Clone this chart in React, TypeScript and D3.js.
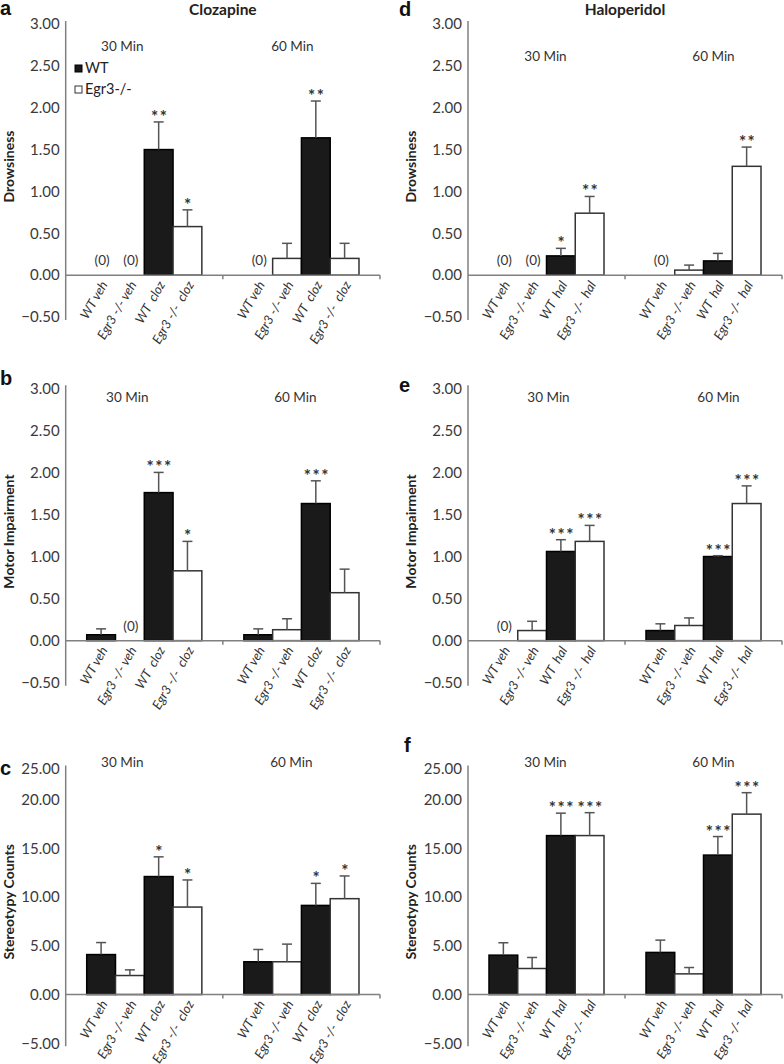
import React, { useEffect, useRef } from "react";
import * as d3 from "d3";

const FONT = "Lato, 'Open Sans', sans-serif";

const times = ["30 Min", "60 Min"];
const genotypes = ["WT", "Egr3", "WT", "Egr3"];
const clozLabels = ["WT veh", "Egr3 -/- veh", "WT  cloz", "Egr3 -/-  cloz"];
const halLabels = ["WT veh", "Egr3 -/- veh", "WT  hal", "Egr3 -/-  hal"];
const legendItems = ["WT", "Egr3-/-"];

const smallTicks = [-0.5, 0, 0.5, 1, 1.5, 2, 2.5, 3];
const countTicks = [-5, 0, 5, 10, 15, 20, 25];

// values: 30 Min (4 conditions) then 60 Min (4 conditions)
const drowsClozMean = [0, 0, 1.5, 0.58, 0, 0.2, 1.64, 0.2];
const drowsClozSem = [0, 0, 0.33, 0.2, 0, 0.18, 0.44, 0.18];
const drowsClozStars = ["", "", "**", "*", "", "", "**", ""];
const drowsClozZero = [true, true, false, false, true, false, false, false];

const motorClozMean = [0.07, 0, 1.76, 0.83, 0.07, 0.13, 1.63, 0.57];
const motorClozSem = [0.07, 0, 0.24, 0.35, 0.07, 0.13, 0.27, 0.28];
const motorClozStars = ["", "", "***", "*", "", "", "***", ""];
const motorClozZero = [false, true, false, false, false, false, false, false];

const stereoClozMean = [4.1, 1.95, 12.1, 8.97, 3.36, 3.36, 9.14, 9.83];
const stereoClozSem = [1.23, 0.58, 2.02, 2.78, 1.26, 1.81, 2.26, 2.33];
const stereoClozStars = ["", "", "*", "*", "", "", "*", "*"];
const stereoClozZero = [false, false, false, false, false, false, false, false];

const drowsHalMean = [0, 0, 0.23, 0.74, 0, 0.06, 0.17, 1.3];
const drowsHalSem = [0, 0, 0.09, 0.2, 0, 0.06, 0.09, 0.23];
const drowsHalStars = ["", "", "*", "**", "", "", "", "**"];
const drowsHalZero = [true, true, false, false, true, false, false, false];

const motorHalMean = [0, 0.12, 1.06, 1.18, 0.12, 0.18, 1.0, 1.63];
const motorHalSem = [0, 0.11, 0.14, 0.19, 0.08, 0.09, 0.01, 0.21];
const motorHalStars = ["", "", "***", "***", "", "", "***", "***"];
const motorHalZero = [true, false, false, false, false, false, false, false];

const stereoHalMean = [4.04, 2.67, 16.3, 16.3, 4.32, 2.12, 14.3, 18.5];
const stereoHalSem = [1.27, 1.13, 2.3, 2.35, 1.26, 0.65, 1.9, 2.6];
const stereoHalStars = ["", "", "***", "***", "", "", "***", "***"];
const stereoHalZero = [false, false, false, false, false, false, false, false];

// layout
const colX = [
  [65.7, 380],
  [468, 782],
];
const rows = [
  { domain: [-0.5, 3], range: [317, 24], ticks: smallTicks },
  { domain: [-0.5, 3], range: [682.7, 388.3], ticks: smallTicks },
  { domain: [-5, 20, 25], range: [1043.3, 799.5, 768.5], ticks: countTicks },
];

const panels = [
  { letter: "a", lx: 0, ly: 15, col: 0, row: 0, ytitle: "Drowsiness", head: "Clozapine", mean: drowsClozMean, sem: drowsClozSem, stars: drowsClozStars, zero: drowsClozZero, labels: clozLabels, gy: 51, shift: [-22, -9], legend: true },
  { letter: "b", lx: 0, ly: 385, col: 0, row: 1, ytitle: "Motor Impairment", mean: motorClozMean, sem: motorClozSem, stars: motorClozStars, zero: motorClozZero, labels: clozLabels, gy: 402, shift: [-17, -6] },
  { letter: "c", lx: 0, ly: 775, col: 0, row: 2, ytitle: "Stereotypy Counts", mean: stereoClozMean, sem: stereoClozSem, stars: stereoClozStars, zero: stereoClozZero, labels: clozLabels, gy: 767, shift: [-22, -10] },
  { letter: "d", lx: 399, ly: 16, col: 1, row: 0, ytitle: "Drowsiness", head: "Haloperidol", mean: drowsHalMean, sem: drowsHalSem, stars: drowsHalStars, zero: drowsHalZero, labels: halLabels, gy: 61, shift: [-1, 10] },
  { letter: "e", lx: 399, ly: 392, col: 1, row: 1, ytitle: "Motor Impairment", mean: motorHalMean, sem: motorHalSem, stars: motorHalStars, zero: motorHalZero, labels: halLabels, gy: 402, shift: [2, 15] },
  { letter: "f", lx: 404, ly: 752, col: 1, row: 2, ytitle: "Stereotypy Counts", mean: stereoHalMean, sem: stereoHalSem, stars: stereoHalStars, zero: stereoHalZero, labels: halLabels, gy: 767, shift: [-1, 10] },
];

function drawPanel(svg: any, p: any) {
  const [x0, x1] = colX[p.col];
  const r = rows[p.row];
  const y = d3.scaleLinear().domain(r.domain).range(r.range);
  const gx = d3.scaleBand().domain(times).range([x0, x1]);
  const cx = d3
    .scaleBand()
    .domain(["0", "1", "2", "3"])
    .range([0, gx.bandwidth()])
    .paddingInner(0)
    .paddingOuter(0.73);

  const g = svg.append("g");
  const y0 = y(0);

  const data = p.mean.map((m: number, i: number) => {
    const t = times[Math.floor(i / 4)];
    const c = i % 4;
    const left = (gx(t) as number) + (cx(String(c)) as number);
    return {
      m,
      s: p.sem[i],
      star: p.stars[i],
      zero: p.zero[i],
      geno: genotypes[c],
      label: p.labels[c],
      left,
      mid: left + cx.bandwidth() / 2,
    };
  });

  // panel letter and header
  g.append("text")
    .attr("x", p.lx)
    .attr("y", p.ly)
    .attr("font-family", "'Liberation Sans', Arial, sans-serif")
    .attr("font-weight", "bold")
    .attr("font-size", 20)
    .attr("fill", "#111")
    .text(p.letter);
  if (p.head) {
    g.append("text")
      .attr("x", (x0 + x1) / 2)
      .attr("y", 15)
      .attr("text-anchor", "middle")
      .attr("font-family", FONT)
      .attr("font-weight", "bold")
      .attr("font-size", 15.5)
      .attr("fill", "#222")
      .text(p.head);
  }

  // y axis
  const ya = g
    .append("g")
    .attr("transform", `translate(${x0},0)`)
    .call(
      d3
        .axisLeft(y)
        .tickValues(r.ticks)
        .tickSize(0)
        .tickPadding(6)
        .tickFormat(d3.format(".2f"))
    );
  ya.select(".domain").remove();
  ya.selectAll("text")
    .attr("font-family", FONT)
    .attr("font-size", 15)
    .attr("fill", "#3a3a3a");
  const top = r.ticks[r.ticks.length - 1];
  g.append("line")
    .attr("x1", x0)
    .attr("x2", x0)
    .attr("y1", y(top) - 3)
    .attr("y2", y(r.ticks[0]) + 3)
    .attr("stroke", "#808080")
    .attr("stroke-width", 1.5);

  g.append("text")
    .attr("transform", `translate(${x0 - 57},${(y(top) + y(r.ticks[0])) / 2 - 4}) rotate(-90)`)
    .attr("text-anchor", "middle")
    .attr("dy", "0.35em")
    .attr("font-family", FONT)
    .attr("font-weight", "bold")
    .attr("font-size", 14)
    .attr("fill", "#222")
    .text(p.ytitle);

  // group labels
  times.forEach((t, i) => {
    g.append("text")
      .attr("x", (gx(t) as number) + gx.bandwidth() / 2 + p.shift[i])
      .attr("y", p.gy)
      .attr("text-anchor", "middle")
      .attr("font-family", FONT)
      .attr("font-size", 13.5)
      .attr("fill", "#333")
      .text(t);
  });

  // bars
  g.selectAll("rect.bar")
    .data(data.filter((d: any) => d.m > 0))
    .enter()
    .append("rect")
    .attr("class", "bar")
    .attr("x", (d: any) => d.left)
    .attr("y", (d: any) => y(d.m))
    .attr("width", cx.bandwidth())
    .attr("height", (d: any) => y0 - y(d.m))
    .attr("fill", (d: any) => (d.geno === "WT" ? "#1a1a1a" : "#ffffff"))
    .attr("stroke", (d: any) => (d.geno === "WT" ? "#000" : "#333"))
    .attr("stroke-width", 1.5);

  // error bars
  const err = data.filter((d: any) => d.s > 0);
  g.selectAll("line.err")
    .data(err)
    .enter()
    .append("line")
    .attr("x1", (d: any) => d.mid)
    .attr("x2", (d: any) => d.mid)
    .attr("y1", (d: any) => y(d.m))
    .attr("y2", (d: any) => y(d.m + d.s))
    .attr("stroke", "#555")
    .attr("stroke-width", 1.5);
  g.selectAll("line.cap")
    .data(err)
    .enter()
    .append("line")
    .attr("x1", (d: any) => d.mid - 5)
    .attr("x2", (d: any) => d.mid + 5)
    .attr("y1", (d: any) => y(d.m + d.s))
    .attr("y2", (d: any) => y(d.m + d.s))
    .attr("stroke", "#555")
    .attr("stroke-width", 1.5);

  // significance stars
  g.selectAll("text.star")
    .data(data.filter((d: any) => d.star))
    .enter()
    .append("text")
    .attr("x", (d: any) => d.mid + 1)
    .attr("y", (d: any) => y(d.m + d.s) + 1)
    .attr("text-anchor", "middle")
    .attr("font-family", FONT)
    .attr("font-weight", "bold")
    .attr("font-size", 17)
    .attr("letter-spacing", 1.5)
    .attr("fill", "#333")
    .text((d: any) => d.star);

  // (0) markers
  g.selectAll("text.zero")
    .data(data.filter((d: any) => d.zero))
    .enter()
    .append("text")
    .attr("x", (d: any) => d.mid + 1)
    .attr("y", y0 - 10)
    .attr("text-anchor", "middle")
    .attr("font-family", FONT)
    .attr("font-size", 13.5)
    .attr("fill", "#333")
    .text("(0)");

  // x axis
  g.append("line")
    .attr("x1", x0)
    .attr("x2", x1)
    .attr("y1", y0)
    .attr("y2", y0)
    .attr("stroke", "#808080")
    .attr("stroke-width", 1.5);
  [gx(times[1]) as number, x1].forEach((tx) => {
    g.append("line")
      .attr("x1", tx)
      .attr("x2", tx)
      .attr("y1", y0)
      .attr("y2", y0 + 4)
      .attr("stroke", "#808080")
      .attr("stroke-width", 1.5);
  });

  // category labels
  g.selectAll("text.cat")
    .data(data)
    .enter()
    .append("text")
    .attr("transform", (d: any) => `translate(${d.mid + 3},${y0 + 7}) rotate(-60)`)
    .attr("text-anchor", "end")
    .attr("dy", "0.35em")
    .attr("font-family", FONT)
    .attr("font-style", "italic")
    .attr("font-size", 13)
    .attr("fill", "#333")
    .attr("xml:space", "preserve")
    .style("white-space", "pre")
    .text((d: any) => d.label);

  // legend
  if (p.legend) {
    legendItems.forEach((name, i) => {
      const ly = 65 + i * 21;
      g.append("rect")
        .attr("x", 75)
        .attr("y", ly)
        .attr("width", 7)
        .attr("height", 7)
        .attr("fill", i === 0 ? "#1a1a1a" : "#fff")
        .attr("stroke", i === 0 ? "#000" : "#333")
        .attr("stroke-width", 1);
      g.append("text")
        .attr("x", 85)
        .attr("y", ly + 8)
        .attr("font-family", FONT)
        .attr("font-size", 14.5)
        .attr("fill", "#222")
        .text(name);
    });
  }
}

export default function App() {
  const ref = useRef<SVGSVGElement>(null);

  useEffect(() => {
    const svg = d3.select(ref.current).html(null);
    svg.append("rect").attr("width", 784).attr("height", 1064).attr("fill", "#fff");
    panels.forEach((p) => drawPanel(svg, p));
  }, []);

  return (
    <svg
      ref={ref}
      width={784}
      height={1064}
      style={{ position: "absolute", left: 0, top: 0 }}
    ></svg>
  );
}
